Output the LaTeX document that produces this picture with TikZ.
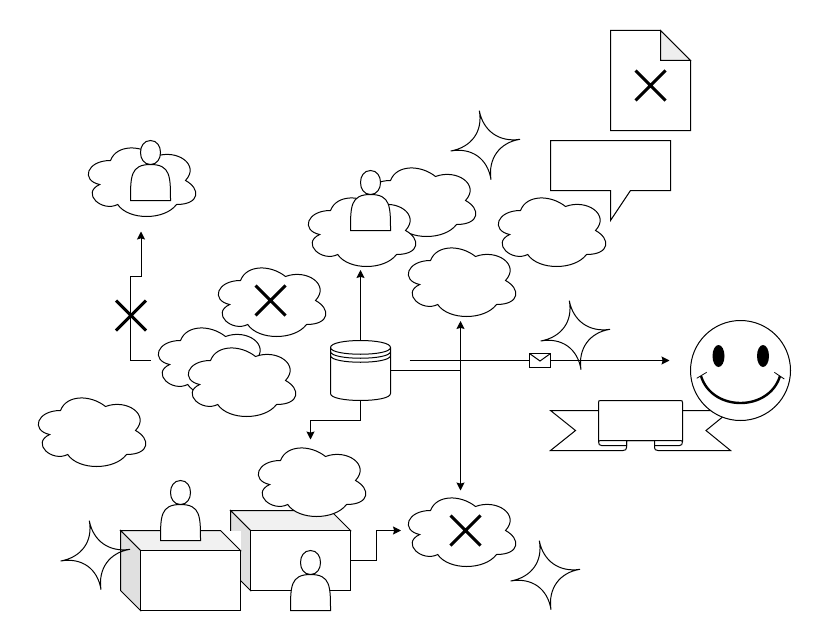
\documentclass[tikz,border=0pt]{standalone}
\usetikzlibrary{arrows.meta,calc}
\definecolor{faceLight}{HTML}{F1F1F1}
\definecolor{faceDark}{HTML}{E0E0E0}
\definecolor{foldFill}{HTML}{EEEEEE}
\tikzset{
  line/.style={draw=black,line width=1pt,line join=miter},
  shapeface/.style={line,fill=white},
  frame/.style={draw=none,fill=none,inner sep=0pt,outer sep=0pt,minimum width=#1},
  conn/.style={draw=black,line width=1pt,-{Stealth[length=8pt,width=8pt,inset=1.2pt]}},
  cross/.style={draw=black,line width=3pt},
}
% frame helper: name, left, top, width, height
\newcommand{\frameat}[5]{\node[frame=#4pt,minimum height=#5pt] (#1) at ({#2+#4/2},{#3+#5/2}) {};}
\newcommand{\cloudat}[3]{%
  \frameat{#1}{#2}{#3}{120}{80}
  \begin{scope}[shift={(#2,#3)}]
    \draw[shapeface] (30,20) .. controls (6,20) and (0,40) .. (19.2,44)
      .. controls (0,52.8) and (21.6,72) .. (37.2,64)
      .. controls (48,80) and (84,80) .. (96,64)
      .. controls (120,64) and (120,48) .. (105,40)
      .. controls (120,24) and (96,8) .. (75,16)
      .. controls (60,4) and (36,4) .. (30,20) -- cycle;
  \end{scope}}
\newcommand{\personat}[3]{%
  \frameat{#1}{#2}{#3}{40}{60}
  \begin{scope}[shift={(#2,#3)}]
    \draw[shapeface] (0,60) .. controls (0,36) and (0,24) .. (20,24)
      .. controls (6.67,24) and (6.67,0) .. (20,0)
      .. controls (33.33,0) and (33.33,24) .. (20,24)
      .. controls (40,24) and (40,36) .. (40,60) -- cycle;
  \end{scope}}
\newcommand{\starat}[3]{%
  \frameat{#1}{#2}{#3}{70}{70}
  \begin{scope}[shift={(#2,#3)}]
    \coordinate (c) at (35,34);
    \coordinate (t1) at (28.6,0);
    \coordinate (t2) at (69.3,28.6);
    \coordinate (t3) at (40.3,69);
    \coordinate (t4) at (0,40.3);
    \draw[line] (t1) .. controls ($(t1)!0.6!(c)$) and ($(t2)!0.6!(c)$) .. (t2)
      .. controls ($(t2)!0.6!(c)$) and ($(t3)!0.6!(c)$) .. (t3)
      .. controls ($(t3)!0.6!(c)$) and ($(t4)!0.6!(c)$) .. (t4)
      .. controls ($(t4)!0.6!(c)$) and ($(t1)!0.6!(c)$) .. (t1) -- cycle;
  \end{scope}}
\newcommand{\crossat}[3]{%
  \frameat{#1}{#2-15}{#3-15}{30}{30}
  \draw[cross] (#2-15,#3-15) -- (#2+15,#3+15) (#2-15,#3+15) -- (#2+15,#3-15);}
\newcommand{\cubeat}[3]{%
  \frameat{#1}{#2}{#3}{120}{80}
  \begin{scope}[shift={(#2,#3)}]
    \fill[white] (0,0) rectangle (120,80);
    \draw[line,fill=faceLight] (0,0) -- (100,0) -- (120,20) -- (20,20) -- cycle;
    \draw[line,fill=faceDark] (0,0) -- (20,20) -- (20,80) -- (0,60) -- cycle;
    \draw[shapeface] (20,20) rectangle (120,80);
  \end{scope}}
\begin{document}
\begin{tikzpicture}[x=1pt,y=-1pt]
\useasboundingbox (-0.5,-0.5) rectangle (820.5,641.5);
% document
\frameat{doc}{610}{30}{80}{100}
\draw[shapeface] (610,30) -- (660,30) -- (690,60) -- (690,130) -- (610,130) -- cycle;
\draw[line,fill=foldFill] (660,30) -- (690,60) -- (660,60) -- cycle;
\crossat{xdoc}{650}{85}
% speech bubble
\frameat{speech}{550}{140}{120}{50}
\draw[shapeface] (550,140) -- (670,140) -- (670,190) -- (630,190) -- (610,220) -- (610,190) -- (550,190) -- cycle;
% clouds
\cloudat{cTopRight}{490}{190}
\cloudat{cBack}{360}{160}
\cloudat{cMain}{300}{190}
\cloudat{cRight}{400}{240}
\cloudat{cX}{210}{260}
\crossat{xCloud}{270}{300}
\cloudat{cOverA}{150}{320}
\cloudat{cOverB}{180}{340}
\cloudat{cLeft}{30}{390}
\cloudat{cUser}{80}{140}
\cloudat{cBottom}{400}{490}
\crossat{xBottom}{465}{530}
% cubes
\cubeat{cubeB}{230}{510}
\cubeat{cubeA}{120}{530}
\cloudat{cLow}{250}{440}
% persons
\personat{pUser}{130}{140}
\personat{pMain}{350}{170}
\personat{pDesk}{160}{480}
\personat{pLow}{290}{550}
% stars
\starat{sA}{450.2}{110.2}
\starat{sB}{540.2}{300.2}
\starat{sC}{60.2}{520.2}
\starat{sD}{510.2}{540.2}
% database
\frameat{db}{330}{340}{60}{60}
\begin{scope}[shift={(330,340)}]
  \draw[shapeface] (0,7) .. controls (0,-2.33) and (60,-2.33) .. (60,7) -- (60,53)
    .. controls (60,62.33) and (0,62.33) .. (0,53) -- cycle;
  \draw[line] (0,7) .. controls (0,16) and (60,16) .. (60,7)
    (0,11) .. controls (0,20) and (60,20) .. (60,11)
    (0,15) .. controls (0,24) and (60,24) .. (60,15);
\end{scope}
% ends of connectors
\coordinate (jn) at (460,370);
\coordinate (upEnd) at (360,269.5);
\coordinate (rightUp) at (460,320.5);
\coordinate (rightDown) at (460,490);
\coordinate (lowEnd) at (310,439);
\coordinate (mailStart) at (409,360);
\coordinate (mailEnd) at (669,360);
\coordinate (leftStart) at (150,360);
\coordinate (leftEnd) at (140.5,231);
% connectors
\draw[conn] (db.north) -- (upEnd);
\draw[conn] (db.east |- jn) -- (jn) -- (rightUp);
\draw[conn] (jn) -- (rightDown);
\draw[conn] (db.south) -- (360,420) -- (310,420) -- (lowEnd);
\draw[conn] (mailStart) -- (mailEnd);
\draw[conn] (leftStart) -- (130,360) -- (130,275.5) -- (140.5,275.5) -- (leftEnd);
\draw[conn] (cubeB.east) ++(0,10) -- ++(26,0) -- ++(0,-30) -- (400.5,530);
\crossat{xLeft}{130.5}{315}
% envelope
\frameat{mail}{529}{353}{21}{14}
\draw[shapeface] (529,353) rectangle (550,367);
\draw[line] (529,353) -- (539.5,360.5) -- (550,353);
% banner
\frameat{banner}{550}{400}{180}{50}
\draw[line,fill=white] (598,410) -- (550,410) -- (575,430) -- (550,450) -- (622.5,450)
  .. controls (625,450) and (626,449) .. (626,447) -- (626,440) -- (654,440) -- (654,447)
  .. controls (654,449) and (655,450) .. (657.5,450) -- (730,450) -- (705.5,430) -- (730,410) -- (682,410);
\draw[shapeface] (598,402) .. controls (598,400.5) and (598.5,400) .. (600,400) -- (680,400)
  .. controls (681.5,400) and (682,400.5) .. (682,402) -- (682,441)
  .. controls (682,444) and (681,445) .. (679,445) -- (654,445) -- (654,440) -- (626,440) -- (626,445) -- (601,445)
  .. controls (599,445) and (598,444) .. (598,441) -- cycle;
\draw[line] (598,441) .. controls (598.5,440.3) and (599.5,440) .. (601,440) -- (626,440)
  (682,441) .. controls (681.5,440.3) and (680.5,440) .. (679,440) -- (654,440);
% smiley
\frameat{smile}{690}{320}{100}{100}
\draw[shapeface] (740,370) circle[radius=50];
\fill[black] (718,355.5) ellipse[x radius=6,y radius=11];
\fill[black] (762.5,355.5) ellipse[x radius=6,y radius=11];
\draw[black,line width=2.4pt] (700.5,375.5) .. controls (711.5,411.5) and (768.5,411.5) .. (779.5,375.5);
\draw[line,line width=0.8pt] (696.2,377.8) -- (706.2,371.8) (773.8,371.8) -- (783.8,378.5);
\end{tikzpicture}
\end{document}
